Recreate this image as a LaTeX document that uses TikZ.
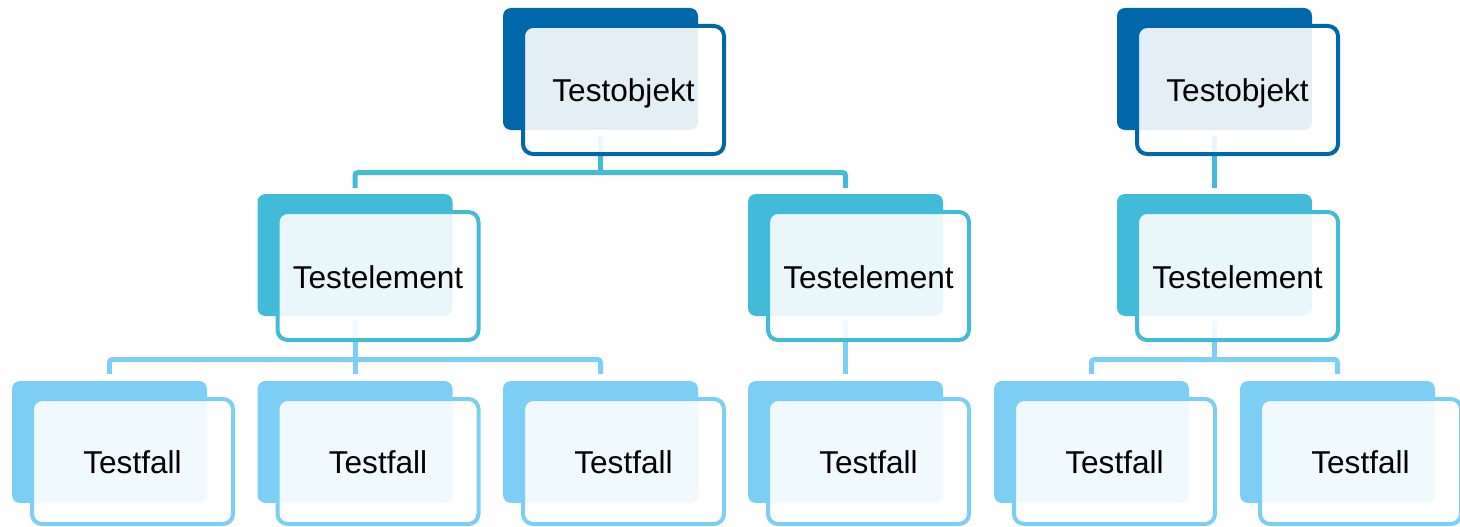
\documentclass[tikz,border=0pt]{standalone}
\usepackage{fontspec}
\setmainfont{Liberation Sans}
\definecolor{lvA}{RGB}{0,104,170}
\definecolor{lvB}{RGB}{66,187,217}
\definecolor{lvC}{RGB}{125,206,245}
\tikzset{
  backbox/.style={rectangle, rounded corners=8pt, inner sep=0pt,
    minimum width=195pt, minimum height=122pt},
  frontbox/.style={rectangle, rounded corners=10pt, inner sep=0pt,
    minimum width=201pt, line width=4pt, fill=white, fill opacity=0.89,
    draw opacity=1, text opacity=1, text=black,
    text height=24pt, text depth=0pt,
    font=\fontsize{31.6}{36}\selectfont},
  link/.style={line width=5pt, rounded corners=3pt}
}
% back plate of a box: name, left, top, colour
\newcommand\backplate[4]{\node[backbox, fill=#4] (#1) at ({#2+97.5},{#3+61}) {};}
% front card of a box: name, left, top, colour, text, height
\newcommand\frontcard[6]{\node[frontbox, draw=#4, minimum height=#6pt]
  (#1) at ({#2+120.5},{#3+16+#6/2+2}) {#5};}
\begin{document}
\begin{tikzpicture}[x=1pt,y=-1pt]
\useasboundingbox (0,0) rectangle (1460,527);

% back plates
\backplate{oA}{503}{8}{lvA}
\backplate{oB}{1117}{8}{lvA}
\backplate{eA}{257.5}{194}{lvB}
\backplate{eB}{748}{194}{lvB}
\backplate{eC}{1117}{194}{lvB}
\backplate{fA}{12}{381}{lvC}
\backplate{fB}{257.5}{381}{lvC}
\backplate{fC}{503}{381}{lvC}
\backplate{fD}{748}{381}{lvC}
\backplate{fE}{994}{381}{lvC}
\backplate{fF}{1240}{381}{lvC}

% junction points
\coordinate (jA) at (600.5,172.5);
\coordinate (jB) at (355,359.5);
\coordinate (jC) at (1214.5,359.5);

% connectors, object -> element
\draw[link, lvB] ([yshift=-6pt]oA.south) -- (jA);
\draw[link, lvB] ([yshift=6pt]eA.north) |- (jA) -| ([yshift=6pt]eB.north);
\draw[link, lvB] ([yshift=-6pt]oB.south) -- ([yshift=6pt]eC.north);

% connectors, element -> case
\draw[link, lvC] ([yshift=-5pt]eA.south) -- (jB);
\draw[link, lvC] ([yshift=7pt]fA.north) |- (jB) -| ([yshift=7pt]fC.north);
\draw[link, lvC] (jB) -- ([yshift=7pt]fB.north);
\draw[link, lvC] ([yshift=-5pt]eB.south) -- ([yshift=7pt]fD.north);
\draw[link, lvC] ([yshift=-5pt]eC.south) -- (jC);
\draw[link, lvC] ([yshift=7pt]fE.north) |- (jC) -| ([yshift=7pt]fF.north);

% front cards
\frontcard{tA}{503}{8}{lvA}{Testobjekt}{128}
\frontcard{tB}{1117}{8}{lvA}{Testobjekt}{128}
\frontcard{tC}{257.5}{194}{lvB}{Testelement}{128}
\frontcard{tD}{748}{194}{lvB}{Testelement}{128}
\frontcard{tE}{1117}{194}{lvB}{Testelement}{128}
\frontcard{tF}{12}{381}{lvC}{Testfall}{125}
\frontcard{tG}{257.5}{381}{lvC}{Testfall}{125}
\frontcard{tH}{503}{381}{lvC}{Testfall}{125}
\frontcard{tI}{748}{381}{lvC}{Testfall}{125}
\frontcard{tJ}{994}{381}{lvC}{Testfall}{125}
\frontcard{tK}{1240}{381}{lvC}{Testfall}{125}
\end{tikzpicture}
\end{document}
